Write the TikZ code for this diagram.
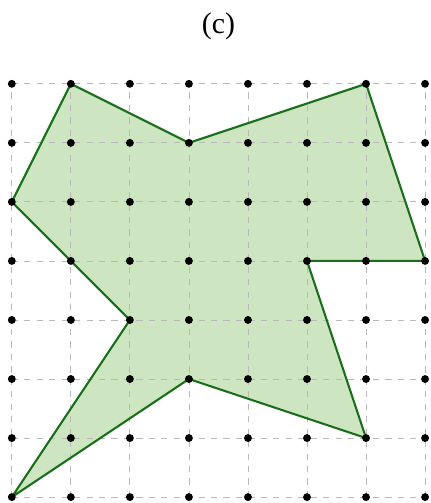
\documentclass[tikz,border=0pt]{standalone}
\usepackage{fontspec}
\setmainfont{Liberation Serif}
\definecolor{shapefill}{RGB}{205,229,193}
\definecolor{shapeline}{RGB}{25,110,25}

\begin{document}
\begin{tikzpicture}[x=1cm,y=1cm]
  \useasboundingbox (-0.2,-0.1) rectangle (7.1,8.42);
  \fill[shapefill] (1,7) -- (3,6) -- (6,7) -- (7,4) -- (5,4) -- (6,1)
    -- (3,2) -- (0,0) -- (2,3) -- (0,5) -- cycle;
  \draw[gray!55,dashed,line width=0.4pt] (0,0) grid (7,7);
  \draw[shapeline,line width=1pt,line join=round] (1,7) -- (3,6) -- (6,7)
    -- (7,4) -- (5,4) -- (6,1) -- (3,2) -- (0,0) -- (2,3) -- (0,5) -- cycle;
  \foreach \i in {0,...,7}
    \foreach \j in {0,...,7}
      \fill (\i,\j) circle (1.9pt);
  \node (title) at (3.5,7.98) {\Large (c)};
\end{tikzpicture}
\end{document}
